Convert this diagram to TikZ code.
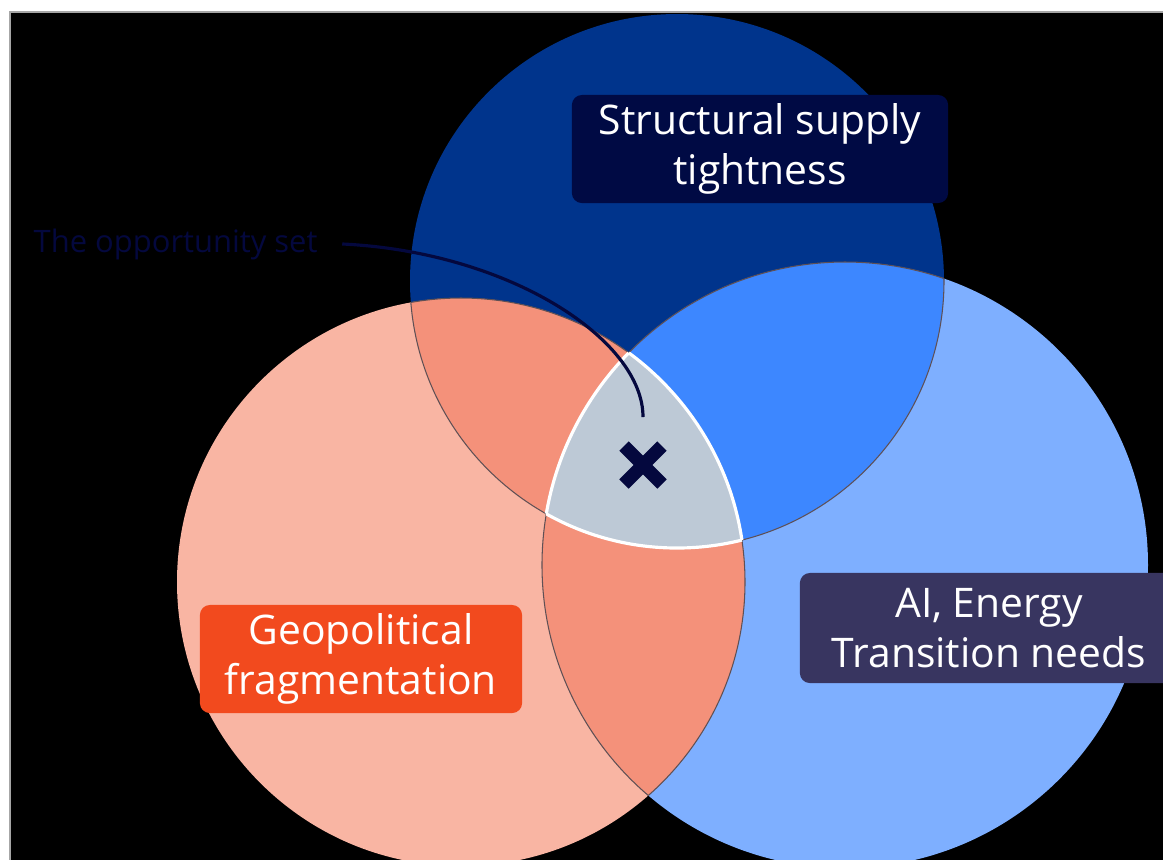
\documentclass[tikz,border=0pt]{standalone}
\usepackage{fontspec}
\setmainfont{Open Sans}
\usetikzlibrary{positioning}

\definecolor{topblue}{RGB}{0,52,140}
\definecolor{rightblue}{RGB}{126,175,255}
\definecolor{midblue}{RGB}{61,135,255}
\definecolor{leftpink}{RGB}{249,181,163}
\definecolor{salmon}{RGB}{244,145,122}
\definecolor{coregrey}{RGB}{189,201,214}
\definecolor{navy}{RGB}{4,8,62}
\definecolor{tagnavy}{RGB}{0,10,68}
\definecolor{tagred}{RGB}{242,74,30}
\definecolor{tagpurple}{RGB}{56,53,96}
\definecolor{edgegrey}{RGB}{95,80,85}

\begin{document}
\begin{tikzpicture}[x=0.01cm,y=-0.01cm,
    tag/.style={rounded corners=0.1cm, text=white, align=center, inner sep=0pt,
      font=\fontsize{11.6}{14.4}\selectfont},
    edge/.style={draw=edgegrey, line width=0.3pt}]
    \useasboundingbox (0,0) rectangle (1163,859);
    \fill[white] (0,0) rectangle (1163,859);
    \filldraw[fill=black, draw=gray!70, line width=0.4pt] (10,12) rectangle (1170,870);

    % circle centres
    \coordinate (ctop) at (677,281);
    \coordinate (cleft) at (461,582);
    \coordinate (cright) at (845,565);

    \begin{scope}
        \clip (10,12) rectangle (1163,859);
        % the three sets
        \fill[topblue] (ctop) circle [radius=267];
        \fill[rightblue] (cright) circle [radius=303];
        \fill[leftpink] (cleft) circle [radius=284];

        % pairwise overlaps
        \begin{scope}
            \clip (ctop) circle [radius=267];
            \fill[midblue] (cright) circle [radius=303];
            \fill[salmon] (cleft) circle [radius=284];
        \end{scope}
        \begin{scope}
            \clip (cright) circle [radius=303];
            \fill[salmon] (cleft) circle [radius=284];
        \end{scope}

        % thin edges inside the other sets
        \foreach \p/\rp in {ctop/267,cleft/284,cright/303}
            \foreach \q/\rq in {ctop/267,cleft/284,cright/303}
            {
                \ifx\p\q\else
                \begin{scope}
                    \clip (\q) circle [radius=\rq];
                    \draw[edge] (\p) circle [radius=\rp];
                \end{scope}
                \fi
            }

        % the opportunity set
        \begin{scope}
            \clip (ctop) circle [radius=267];
            \clip (cright) circle [radius=303];
            \fill[coregrey] (cleft) circle [radius=284];
        \end{scope}
        \foreach \p/\rp/\q/\rq/\s/\rs in {cleft/284/ctop/267/cright/303,
                ctop/267/cleft/284/cright/303, cright/303/cleft/284/ctop/267}
        {
            \begin{scope}
                \clip (\q) circle [radius=\rq];
                \clip (\s) circle [radius=\rs];
                \draw[white, line width=0.9pt] (\p) circle [radius=\rp];
            \end{scope}
        }

        % labels
        \node[tag, fill=tagnavy, minimum width=3.76cm, minimum height=1.08cm]
            (supply) at (760,149) {Structural supply\\tightness};
        \node[tag, fill=tagred, minimum width=3.22cm, minimum height=1.08cm]
            (geo) at (361,659) {Geopolitical\\fragmentation};
        \node[tag, fill=tagpurple, minimum width=3.78cm, minimum height=1.10cm]
            (needs) at (989,628) {AI, Energy\\Transition needs};
    \end{scope}

    % marker
    \node[inner sep=0pt] (cross) at (643,465) {};
    \draw[navy, line width=3.8pt] ([shift={(-19,-19)}]cross.center) -- ([shift={(19,19)}]cross.center);
    \draw[navy, line width=3.8pt] ([shift={(-19,19)}]cross.center) -- ([shift={(19,-19)}]cross.center);

    \node[anchor=base west, inner sep=0pt, text=navy, font=\fontsize{8.8}{10}\selectfont]
        (opp) at (33,252) {The opportunity set};
    \coordinate (tip) at (643,417);
    \draw[navy, line width=0.9pt] ([xshift=0.24cm]opp.east) .. controls (510,252) and (643,340) .. (tip);
\end{tikzpicture}
\end{document}
